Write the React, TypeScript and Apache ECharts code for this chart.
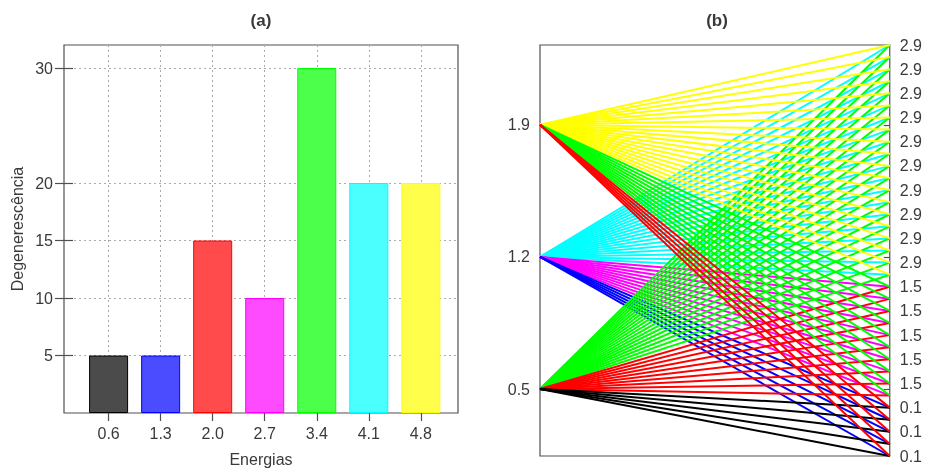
import React, { useEffect, useRef } from "react";
import * as echarts from "echarts";

// ---- Panel (a) data ----
const energies = [0.6, 1.3, 2.0, 2.7, 3.4, 4.1, 4.8];
const degeneracies = [5, 5, 15, 10, 30, 20, 20];
const degTicks = [5, 10, 15, 20, 30];
const barFills = ["#4b4b4b", "#4b4bff", "#ff4b4b", "#ff4bff", "#4bff4b", "#4bffff", "#ffff4b"];
const barBorders = ["#000000", "#0000ff", "#ff0000", "#ff00ff", "#00ff00", "#00ffff", "#ffff00"];
const lineColors = ["#000000", "#0000ff", "#ff0000", "#ff00ff", "#00ff00", "#00ffff", "#ffff00"];

// ---- Panel (b) data ----
const singleLevels = [0.5, 1.2, 1.9];
const pairLevels = [2.9, 1.5, 0.1]; // top to bottom on the right
const pairDegeneracy = [20, 10, 5];
const drawOrder = [1.2, 0.5, 1.9];
const leftAxisMin = 0.145;
const leftAxisMax = 2.323;

const FONT = "'Liberation Sans', Arial, sans-serif";
const TXT = "#3a3a3a";
const FRAME = "#505050";

export default function App() {
  const ref = useRef<HTMLDivElement>(null);

  useEffect(() => {
    if (!ref.current) return;
    const chart = echarts.init(ref.current, undefined, { renderer: "svg" });

    // right-hand states, top to bottom
    const rightStates: number[] = [];
    pairLevels.forEach((lv, i) => {
      for (let j = 0; j < pairDegeneracy[i]; j++) rightStates.push(lv);
    });
    const nStates = rightStates.length; // 35
    const maxIdx = nStates - 1; // 34
    const evenIdx: number[] = [];
    for (let k = 0; k <= maxIdx; k += 2) evenIdx.push(maxIdx - k);

    const toIdxSpace = (e: number) => ((e - leftAxisMin) / (leftAxisMax - leftAxisMin)) * maxIdx;
    const colorFor = (sum: number) => {
      const i = energies.findIndex((e) => Math.abs(e - sum) < 1e-6);
      return lineColors[i];
    };

    const lineData: any[] = [];
    drawOrder.forEach((lv) => {
      rightStates.forEach((rs, k) => {
        lineData.push({
          coords: [
            [0, toIdxSpace(lv)],
            [1, maxIdx - k],
          ],
          lineStyle: { color: colorFor(Math.round((lv + rs) * 10) / 10) },
        });
      });
    });

    const dotted = { type: [2, 3] as any, color: "#aaaaaa", width: 1 };
    const tickStyle = { color: FRAME, width: 1.2 };

    chart.setOption({
      animation: false,
      textStyle: { fontFamily: FONT },
      grid: [
        { left: 64, top: 45, width: 394, height: 371, show: true, borderColor: FRAME, borderWidth: 1.2 },
        { left: 540, top: 45, width: 354, height: 411, show: true, borderColor: FRAME, borderWidth: 1.2 },
      ],
      xAxis: [
        {
          type: "value",
          gridIndex: 0,
          position: "bottom",
          min: 0,
          max: 5.3,
          axisLine: { show: false },
          axisTick: { show: true, inside: true, length: 8, customValues: energies, lineStyle: tickStyle },
          axisLabel: {
            customValues: energies,
            formatter: (v: number) => v.toFixed(1),
            margin: 12,
            fontSize: 16,
            color: TXT,
          },
          splitLine: { show: true, lineStyle: dotted },
          name: "Energias",
          nameLocation: "middle",
          nameGap: 38,
          nameTextStyle: { fontSize: 16, color: TXT },
        },
        {
          type: "value",
          gridIndex: 0,
          position: "top",
          min: 0,
          max: 5.3,
          axisLine: { show: false },
          axisTick: { show: true, inside: true, length: 8, customValues: energies, lineStyle: tickStyle },
          axisLabel: { show: false },
          splitLine: { show: false },
        },
        { type: "value", gridIndex: 1, min: 0, max: 1, show: false },
      ],
      yAxis: [
        {
          type: "value",
          gridIndex: 0,
          position: "left",
          min: 0,
          max: 32,
          axisLine: { show: false },
          axisTick: { show: true, inside: true, length: 9, customValues: degTicks, lineStyle: tickStyle },
          axisLabel: { customValues: degTicks, margin: 11, fontSize: 16, color: TXT },
          splitLine: { show: true, lineStyle: dotted },
          name: "Degenerescência",
          nameLocation: "middle",
          nameRotate: 90,
          nameGap: 39,
          nameTextStyle: { fontSize: 16, color: TXT },
        },
        {
          type: "value",
          gridIndex: 0,
          position: "right",
          min: 0,
          max: 32,
          axisLine: { show: false },
          axisTick: { show: true, inside: true, length: 9, customValues: degTicks, lineStyle: tickStyle },
          axisLabel: { show: false },
          splitLine: { show: false },
        },
        {
          type: "value",
          gridIndex: 1,
          position: "left",
          min: leftAxisMin,
          max: leftAxisMax,
          axisLine: { show: false },
          axisTick: { show: true, inside: true, length: 8, customValues: singleLevels, lineStyle: tickStyle },
          axisLabel: {
            customValues: singleLevels,
            formatter: (v: number) => v.toFixed(1),
            margin: 10,
            fontSize: 16,
            color: TXT,
          },
          splitLine: { show: false },
        },
        {
          type: "value",
          gridIndex: 1,
          position: "right",
          min: 0,
          max: maxIdx,
          axisLine: { show: false },
          axisTick: { show: false },
          axisLabel: {
            customValues: evenIdx,
            formatter: (v: number) => rightStates[maxIdx - Math.round(v)].toFixed(1),
            margin: 10,
            fontSize: 16,
            color: TXT,
          },
          splitLine: { show: false },
        },
        {
          type: "value",
          gridIndex: 1,
          position: "right",
          min: leftAxisMin,
          max: leftAxisMax,
          axisLine: { show: false },
          axisTick: { show: true, inside: true, length: 6, customValues: singleLevels, lineStyle: tickStyle },
          axisLabel: { show: false },
          splitLine: { show: false },
        },
      ],
      series: [
        {
          type: "bar",
          xAxisIndex: 0,
          yAxisIndex: 0,
          barWidth: 39,
          data: energies.map((e, i) => ({
            value: [e, degeneracies[i]],
            itemStyle: { color: barFills[i], borderColor: barBorders[i], borderWidth: 1 },
          })),
          silent: true,
        },
        {
          type: "lines",
          coordinateSystem: "cartesian2d",
          xAxisIndex: 2,
          yAxisIndex: 3,
          lineStyle: { width: 2, opacity: 1 },
          data: lineData,
          silent: true,
          z: 3,
        },
      ],
      graphic: [
        {
          type: "text",
          x: 261,
          y: 20,
          style: { text: "(a)", fontSize: 17, fontWeight: "bold", fontFamily: FONT, fill: TXT, align: "center", verticalAlign: "middle" },
        },
        {
          type: "text",
          x: 717,
          y: 20,
          style: { text: "(b)", fontSize: 17, fontWeight: "bold", fontFamily: FONT, fill: TXT, align: "center", verticalAlign: "middle" },
        },
      ],
    });

    return () => chart.dispose();
  }, []);

  return <div ref={ref} style={{ position: "fixed", left: 0, top: 0, width: 925, height: 472 }} />;
}
